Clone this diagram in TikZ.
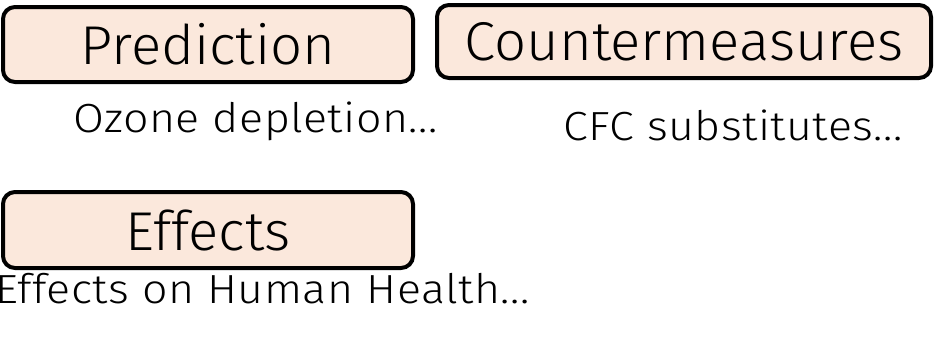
\documentclass[tikz,border=0pt]{standalone}
\usepackage{fontspec}
\setmainfont{Fira Sans}[UprightFont=* Light, Ligatures=NoCommon]
\newfontfamily\labelfont{Fira Sans}[UprightFont=* Light, Ligatures=NoCommon, FakeStretch=1.03]
\newfontfamily\descfont{Fira Sans}[UprightFont=* Light, Ligatures=NoCommon, FakeStretch=1.1, LetterSpace=1.2]
\definecolor{boxfill}{HTML}{FBE8DC}
\begin{document}
\begin{tikzpicture}[x=0.75pt,y=-0.75pt,
  labelbox/.style={draw=black, line width=3pt, fill=boxfill, rounded corners=9pt,
    inner sep=0pt, font=\labelfont\fontsize{41}{44}\selectfont},
  desc/.style={inner sep=0pt, font=\descfont\fontsize{30.5}{32}\selectfont}]
\useasboundingbox (0,0) rectangle (935,340);
\node[labelbox, minimum width=410*0.75pt, minimum height=75*0.75pt] (pred) at (208,44.5) {Prediction};
\node[labelbox, minimum width=494*0.75pt, minimum height=73*0.75pt] (count) at (684,41.5) {Countermeasures};
\node[labelbox, minimum width=410*0.75pt, minimum height=76*0.75pt] (eff) at (208,230) {Effects};
\node[desc, anchor=base west] (ozone) at (73,132) {Ozone depletion...};
\node[desc, anchor=base west] (cfc) at (563,140) {CFC substitutes...};
\node[desc, anchor=base west] (health) at (-5,303) {Effects on Human Health...};
\end{tikzpicture}
\end{document}
